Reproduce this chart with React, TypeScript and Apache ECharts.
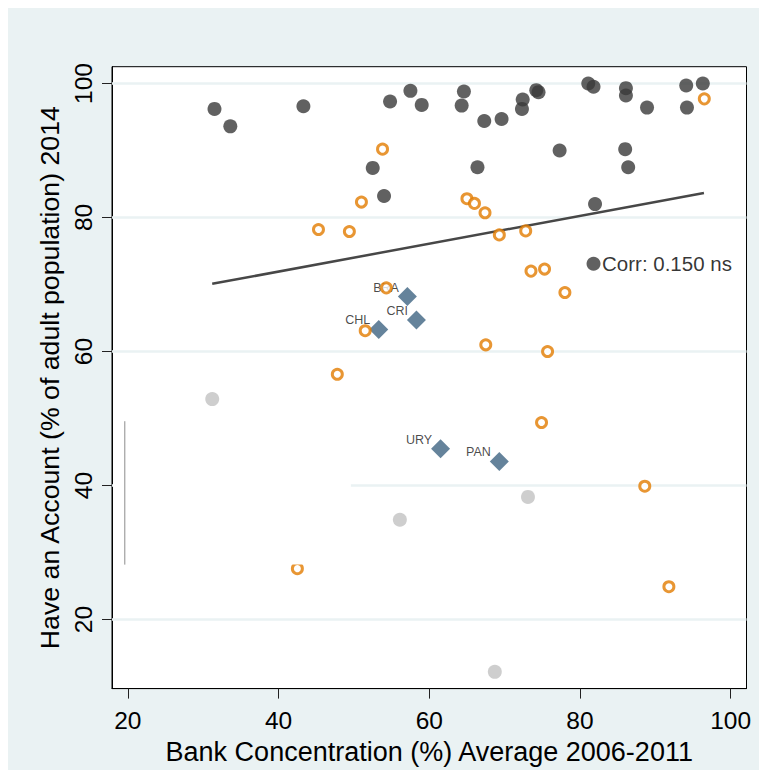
import React, { useEffect, useRef } from "react";
import * as echarts from "echarts";

// axis ticks
const xTicks = [20, 40, 60, 80, 100];
const yTicks = [20, 40, 60, 80, 100];
const X_MIN = 17.9;
const X_MAX = 102.1;
const Y_MIN = 9.7;
const Y_MAX = 102.5;

// filled dark circles
const darkPoints = [
  [31.5, 96.2], [33.6, 93.6], [43.3, 96.6], [54.8, 97.3], [57.5, 98.9],
  [59.0, 96.8], [52.5, 87.4], [54.0, 83.2], [64.6, 98.8], [64.3, 96.7],
  [67.3, 94.4], [69.6, 94.7], [72.4, 97.6], [72.3, 96.2], [74.2, 99.0],
  [74.5, 98.7], [81.1, 100.0], [81.8, 99.5], [86.1, 99.3], [86.1, 98.2],
  [88.9, 96.4], [94.1, 99.7], [96.3, 100.0], [94.2, 96.4], [66.4, 87.5],
  [77.3, 90.0], [86.0, 90.2], [86.4, 87.5], [82.0, 82.0],
];

// hollow orange circles
const orangePoints = [
  [53.8, 90.2], [51.0, 82.3], [45.3, 78.2], [49.4, 77.9], [54.3, 69.5],
  [65.0, 82.8], [66.0, 82.1], [67.4, 80.7], [69.3, 77.4], [72.8, 78.0],
  [73.5, 72.0], [75.3, 72.3], [78.0, 68.8], [96.5, 97.7], [51.5, 63.1],
  [47.8, 56.6], [67.5, 61.0], [75.7, 60.0], [74.9, 49.4], [88.6, 39.9],
  [91.8, 24.9], [42.5, 27.6],
];

// light gray circles
const grayPoints = [[31.2, 52.9], [56.1, 34.9], [73.1, 38.3], [68.7, 12.2]];

// labelled diamonds
const latamCodes = ["BRA", "CRI", "CHL", "URY", "PAN"];
const latamPoints = [[57.1, 68.2], [58.3, 64.7], [53.3, 63.3], [61.5, 45.5], [69.3, 43.6]];

// fitted line end points
const fitLine = [[31.2, 70.1], [96.45, 83.66]];

// correlation note
const corrPoint = [81.8, 73.1];
const corrText = "Corr: 0.150 ns";

// empty legend box left in the plot region: [x0, y0, x1, y1]
const maskBox = [18.05, 28.2, 49.6, 49.6];
const maskEdge = [[19.6, 49.6], [19.6, 28.2]];

const FONT = "'Liberation Sans', Arial, sans-serif";
const BG = "#eaf2f3";

export default function App() {
  const chartRef = useRef<HTMLDivElement>(null);

  useEffect(() => {
    document.body.style.overflow = "hidden";
    if (!chartRef.current) return;
    const chart = echarts.init(chartRef.current, null, { renderer: "svg" });

    const option = {
      animation: false,
      backgroundColor: BG,
      textStyle: { fontFamily: FONT },
      grid: {
        left: 104,
        top: 58.7,
        right: 20.5,
        bottom: 69.5,
        show: true,
        backgroundColor: "#fff",
        borderColor: "#000",
        borderWidth: 1,
      },
      xAxis: {
        type: "value",
        min: X_MIN,
        max: X_MAX,
        name: "Bank Concentration (%) Average 2006-2011",
        nameLocation: "middle",
        nameGap: 33.6,
        nameTextStyle: { fontSize: 27, color: "#000", fontFamily: FONT },
        axisLine: { show: true, lineStyle: { color: "#000", width: 1 } },
        axisTick: { show: true, length: 10, customValues: xTicks, lineStyle: { color: "#222" } },
        axisLabel: { customValues: xTicks, fontSize: 24.5, color: "#000", margin: 19.5, fontFamily: FONT },
        splitLine: { show: false },
      },
      yAxis: {
        type: "value",
        min: Y_MIN,
        max: Y_MAX,
        name: "Have an Account (% of adult population) 2014",
        nameLocation: "middle",
        nameGap: 46,
        nameTextStyle: { fontSize: 26.7, color: "#000", fontFamily: FONT },
        axisLine: { show: true, lineStyle: { color: "#000", width: 1 } },
        axisTick: { show: true, length: 10, customValues: yTicks, lineStyle: { color: "#222" } },
        axisLabel: { customValues: yTicks, fontSize: 24.5, color: "#000", margin: 16, rotate: 90, fontFamily: FONT },
        splitLine: { show: false },
      },
      series: [
        {
          type: "custom",
          z: 1,
          silent: true,
          data: yTicks.map((v) => [X_MIN, v]),
          renderItem: (params: any, api: any) => {
            const p = api.coord([X_MIN, api.value(1)]);
            const cs = params.coordSys;
            return {
              type: "line",
              shape: { x1: cs.x, y1: p[1], x2: cs.x + cs.width, y2: p[1] },
              style: { stroke: BG, lineWidth: 2.5 },
            };
          },
        },
        {
          type: "line",
          z: 2,
          silent: true,
          data: fitLine,
          symbol: "none",
          lineStyle: { color: "#474747", width: 2.5 },
        },
        {
          type: "scatter",
          z: 3,
          data: grayPoints,
          symbol: "circle",
          symbolSize: 14,
          itemStyle: { color: "#c2c2c2" },
        },
        {
          type: "scatter",
          z: 3,
          data: darkPoints,
          symbol: "circle",
          symbolSize: 14,
          itemStyle: { color: "#393939" },
        },
        {
          type: "scatter",
          z: 3,
          data: latamPoints.map((p, i) => ({ name: latamCodes[i], value: p })),
          symbol: "diamond",
          symbolSize: 19,
          itemStyle: { color: "#3f6482" },
          label: {
            show: true,
            formatter: "{b}",
            position: "left",
            distance: 0,
            offset: [1, -9],
            fontSize: 12.5,
            color: "#1a1a1a",
            fontFamily: FONT,
          },
        },
        {
          type: "scatter",
          z: 4,
          data: orangePoints,
          symbol: "circle",
          symbolSize: 10,
          itemStyle: { color: "#fff", borderColor: "#e27c00", borderWidth: 3 },
        },
        {
          type: "custom",
          z: 5,
          silent: true,
          data: [maskBox],
          encode: { x: [0, 2], y: [1, 3] },
          renderItem: (params: any, api: any) => {
            const p0 = api.coord([api.value(0), api.value(1)]);
            const p1 = api.coord([api.value(2), api.value(3)]);
            return {
              type: "rect",
              shape: { x: p0[0], y: p1[1], width: p1[0] - p0[0], height: p0[1] - p1[1] },
              style: { fill: "#fff" },
            };
          },
        },
        {
          type: "line",
          z: 6,
          silent: true,
          data: maskEdge,
          symbol: "none",
          lineStyle: { color: "#8c8c8c", width: 1 },
        },
        {
          type: "scatter",
          z: 6,
          data: [corrPoint],
          symbol: "circle",
          symbolSize: 14,
          itemStyle: { color: "#393939" },
          label: {
            show: true,
            formatter: corrText,
            position: "right",
            distance: 1.5,
            fontSize: 20.5,
            color: "#000",
            fontFamily: FONT,
          },
        },
      ],
    };

    chart.setOption(option as any);
    return () => chart.dispose();
  }, []);

  return <div ref={chartRef} style={{ width: "759px", height: "762px" }} />;
}
